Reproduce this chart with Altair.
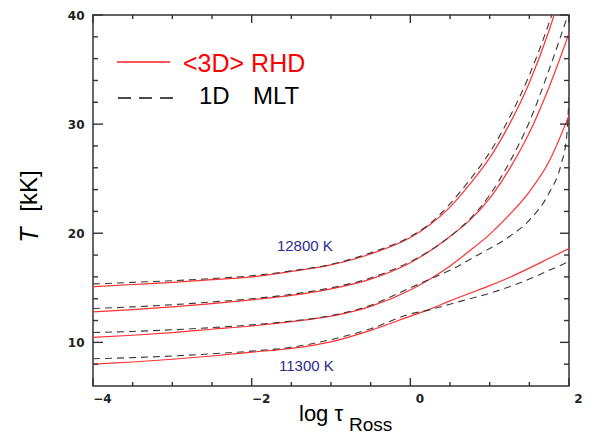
import altair as alt
import pandas as pd

# ---- data ----
tau = [-4, -3.5, -3, -2.5, -2, -1.5, -1, -0.5, 0, 0.25, 0.5, 0.75, 1, 1.25, 1.5, 1.75, 2]

rhd_1 = [15.1, 15.3, 15.5, 15.75, 16.0, 16.5, 17.1, 18.1, 19.6, 20.8, 22.4, 24.5, 26.9, 30.0, 33.8, 38.6, 44.5]
mlt_1 = [15.35, 15.5, 15.65, 15.85, 16.1, 16.55, 17.15, 18.2, 19.7, 20.9, 22.7, 24.9, 27.4, 30.6, 34.5, 39.3, 45.0]

rhd_2 = [12.8, 13.0, 13.25, 13.55, 13.9, 14.3, 14.9, 15.8, 17.3, 18.4, 19.7, 21.2, 23.2, 25.9, 29.2, 33.4, 38.3]
mlt_2 = [13.1, 13.25, 13.45, 13.7, 14.0, 14.4, 15.0, 15.9, 17.4, 18.4, 19.7, 21.3, 23.5, 26.5, 30.2, 35.0, 40.3]

rhd_3 = [10.45, 10.65, 10.9, 11.2, 11.5, 11.9, 12.4, 13.3, 14.8, 15.8, 17.0, 18.4, 19.9, 21.7, 23.8, 26.6, 30.8]
tau_mlt_3 = [-4, -3.5, -3, -2.5, -2, -1.5, -1, -0.5, 0, 0.25, 0.5, 0.75, 1, 1.25, 1.5, 1.75, 1.9, 1.97, 2]
mlt_3 = [10.9, 11.0, 11.15, 11.35, 11.6, 11.95, 12.45, 13.4, 15.0, 15.8, 16.6, 17.6, 18.6, 19.7, 21.2, 23.7, 26.3, 28.8, 32.5]

rhd_4 = [8.0, 8.2, 8.45, 8.75, 9.1, 9.45, 10.05, 11.1, 12.4, 13.05, 13.8, 14.5, 15.2, 15.95, 16.8, 17.7, 18.6]
mlt_4 = [8.5, 8.6, 8.75, 8.95, 9.2, 9.55, 10.25, 11.25, 12.6, 13.0, 13.5, 14.0, 14.5, 15.1, 15.8, 16.6, 17.4]

curve_labels = ["12800 K", "11300 K"]
curve_label_tau = [-1.33, -1.31]
curve_label_T = [18.8, 7.8]

x_major = [-4, -2, 0, 2]
x_minor = [-3.5, -3, -2.5, -1.5, -1, -0.5, 0.5, 1, 1.5]
y_major = [10, 20, 30, 40]
y_minor = [8, 12, 14, 16, 18, 22, 24, 26, 28, 32, 34, 36, 38]

legend_rhd = "<3D> RHD"
legend_mlt = ["1D", "MLT"]

# ---- build tables ----
def long(xs, ys, name):
    return pd.DataFrame({"tau": xs, "T": ys, "model": name})

df_rhd = pd.concat([long(tau, rhd_1, "r1"), long(tau, rhd_2, "r2"),
                    long(tau, rhd_3, "r3"), long(tau, rhd_4, "r4")])
df_mlt = pd.concat([long(tau, mlt_1, "m1"), long(tau, mlt_2, "m2"),
                    long(tau_mlt_3, mlt_3, "m3"), long(tau, mlt_4, "m4")])

W, H = 476, 371
xscale = alt.Scale(domain=[-4, 2], nice=False, zero=False)
yscale = alt.Scale(domain=[6, 40], nice=False, zero=False)

xaxis = alt.Axis(values=x_major, ticks=False, domain=False, grid=False, title=None,
                 labelFont="DejaVu Sans", labelFontWeight="bold", labelFontSize=12,
                 labelColor="#222222", labelPadding=7, labelOffset=9,
                 labelFlush=False, labelOverlap=False, format="d")
yaxis = alt.Axis(values=y_major, ticks=False, domain=False, grid=False, title=None,
                 labelFont="DejaVu Sans", labelFontWeight="bold", labelFontSize=12,
                 labelColor="#222222", labelPadding=9,
                 labelFlush=False, labelOverlap=False, format="d")

def X(field):
    return alt.X(field, scale=xscale, axis=xaxis, title=None)

def Y(field):
    return alt.Y(field, scale=yscale, axis=yaxis, title=None)

red = alt.Chart(df_rhd).mark_line(color="#ff3030", strokeWidth=1.2, clip=True,
                                  interpolate="monotone").encode(
    x=X("tau:Q"), y=Y("T:Q"), detail="model:N")

dashed = alt.Chart(df_mlt).mark_line(color="#3a3a3a", strokeWidth=1.1, clip=True,
                                     strokeDash=[7, 5], interpolate="monotone").encode(
    x=X("tau:Q"), y=Y("T:Q"), detail="model:N")

tick_color = "#333333"

def xticks(vals, length, top):
    d = pd.DataFrame({"tau": vals})
    if top:
        yy, yy2 = alt.value(0), alt.value(length)
    else:
        yy, yy2 = alt.value(H), alt.value(H - length)
    return alt.Chart(d).mark_rule(color=tick_color, strokeWidth=1.4).encode(
        x=X("tau:Q"), y=yy, y2=yy2)

def yticks(vals, length, right):
    d = pd.DataFrame({"T": vals})
    if right:
        xx, xx2 = alt.value(W), alt.value(W - length)
    else:
        xx, xx2 = alt.value(0), alt.value(length)
    return alt.Chart(d).mark_rule(color=tick_color, strokeWidth=1.4).encode(
        y=Y("T:Q"), x=xx, x2=xx2)

ticks = [xticks(x_major, 8, False), xticks(x_minor, 4, False),
         xticks(x_major, 8, True), xticks(x_minor, 4, True),
         yticks(y_major, 10, False), yticks(y_minor, 5, False),
         yticks(y_major, 9, True), yticks(y_minor, 5, True)]

labels = alt.Chart(pd.DataFrame({"tau": curve_label_tau, "T": curve_label_T,
                                 "label": curve_labels})).mark_text(
    color="#2b2b8f", fontSize=15, font="Liberation Sans").encode(
    x=X("tau:Q"), y=Y("T:Q"), text="label:N")

one = pd.DataFrame({"k": [0]})

leg_red_line = alt.Chart(one).mark_rule(color="#ff2020", strokeWidth=1.5).encode(
    x=alt.value(24), x2=alt.value(77), y=alt.value(47))
leg_red_text = alt.Chart(one).mark_text(text=legend_rhd, color="#ff0000", fontSize=25,
                                        font="Liberation Sans", align="left",
                                        baseline="alphabetic").encode(
    x=alt.value(90), y=alt.value(57))
leg_dash_line = alt.Chart(one).mark_rule(color="#111111", strokeWidth=1.5,
                                         strokeDash=[13, 8]).encode(
    x=alt.value(25), x2=alt.value(80), y=alt.value(83))
leg_t1 = alt.Chart(one).mark_text(text=legend_mlt[0], color="#000000", fontSize=24,
                                  font="Liberation Sans", align="left",
                                  baseline="alphabetic").encode(
    x=alt.value(106), y=alt.value(89))
leg_t2 = alt.Chart(one).mark_text(text=legend_mlt[1], color="#000000", fontSize=24,
                                  font="Liberation Sans", align="left",
                                  baseline="alphabetic").encode(
    x=alt.value(160), y=alt.value(89))

xt1 = alt.Chart(one).mark_text(text="log τ", color="#000000", fontSize=22,
                               font="Liberation Sans", align="left",
                               baseline="alphabetic").encode(
    x=alt.value(206), y=alt.value(406))
xt2 = alt.Chart(one).mark_text(text="Ross", color="#000000", fontSize=19,
                               font="Liberation Sans", align="left",
                               baseline="alphabetic").encode(
    x=alt.value(256), y=alt.value(416))
yt1 = alt.Chart(one).mark_text(text="T", color="#000000", fontSize=25, fontStyle="italic",
                               font="Liberation Sans", angle=270, align="center",
                               baseline="middle").encode(
    x=alt.value(-63), y=alt.value(220))
yt2 = alt.Chart(one).mark_text(text="[kK]", color="#000000", fontSize=24,
                               font="Liberation Sans", angle=270, align="center",
                               baseline="middle").encode(
    x=alt.value(-63), y=alt.value(176))

chart = alt.layer(red, dashed, *ticks, labels,
                  leg_red_line, leg_red_text, leg_dash_line, leg_t1, leg_t2,
                  xt1, xt2, yt1, yt2).properties(
    width=W, height=H,
    autosize=alt.AutoSizeParams(type="none"),
    padding={"left": 85, "top": 7, "right": 18, "bottom": 50},
).configure_view(stroke="#333333", strokeWidth=1.5)

chart.save("out.html", embed_options={"renderer": "svg", "actions": False})
